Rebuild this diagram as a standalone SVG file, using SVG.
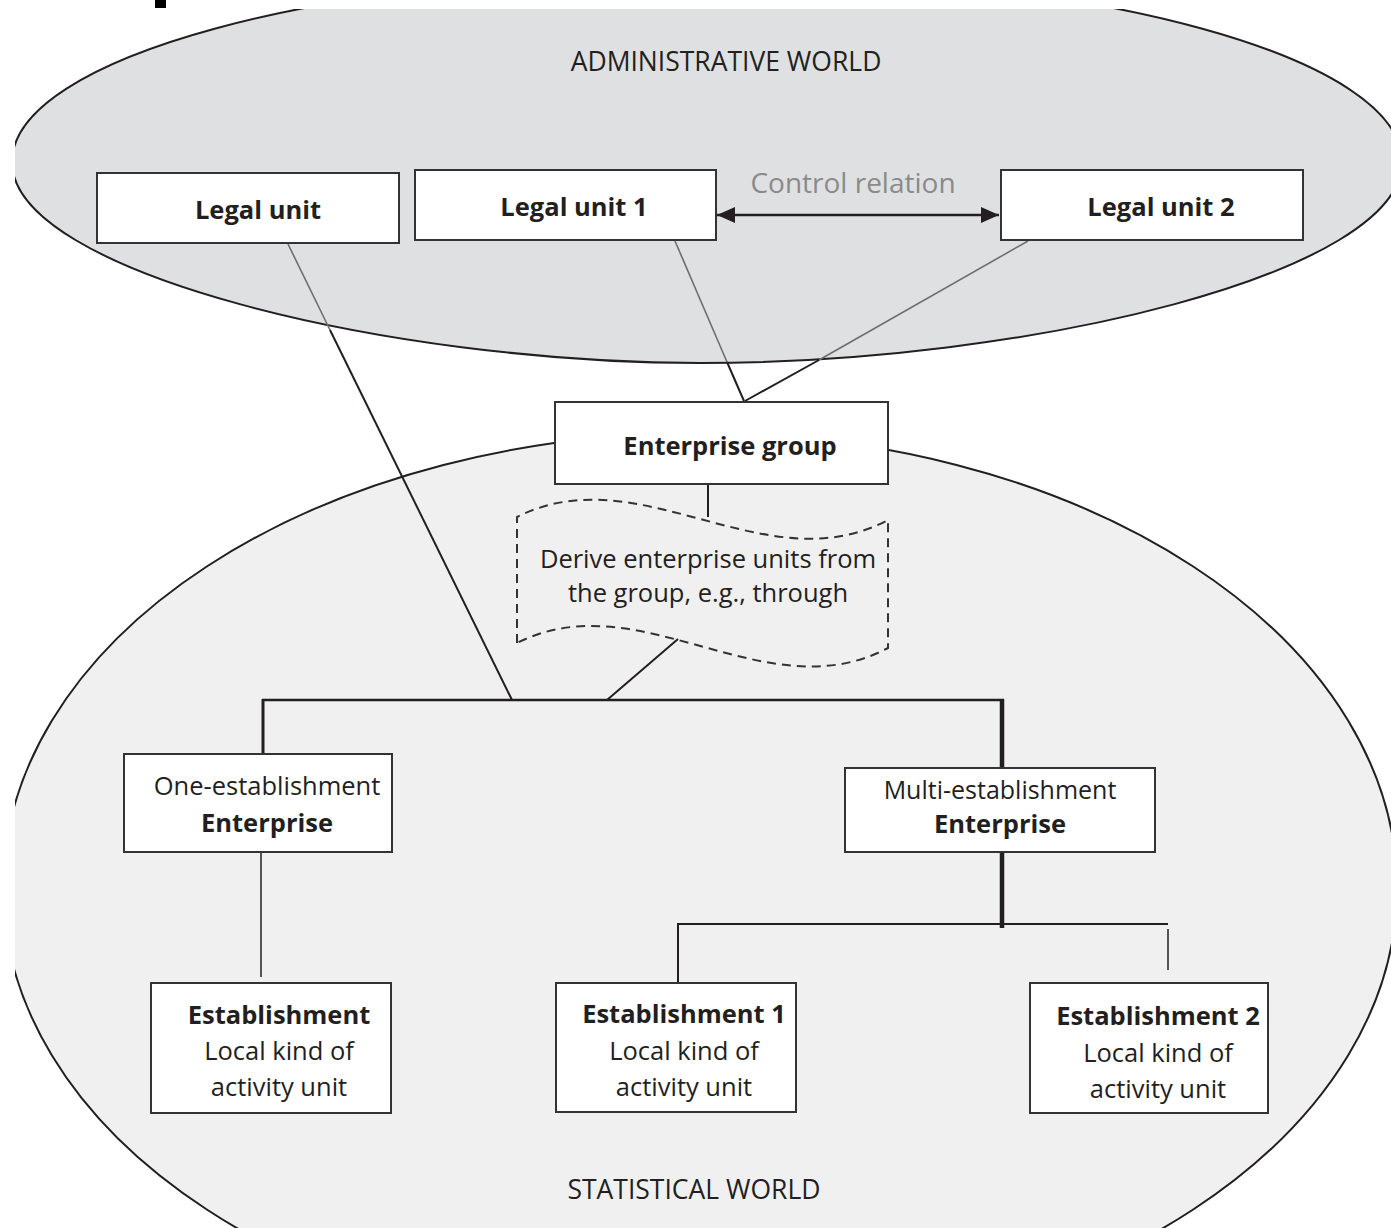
<svg xmlns="http://www.w3.org/2000/svg" width="1391" height="1228" viewBox="0 0 1391 1228">
<style>
.box{fill:#fff;stroke:#333;stroke-width:2}
.t{font-family:"Open Sans","Noto Sans","Liberation Sans",sans-serif;font-size:25.5px;fill:#231f20;text-anchor:middle}
.b{font-weight:bold}
.w{font-size:26.5px}
.ln{stroke:#231f20;stroke-width:2;fill:none}
.lg{stroke:#6e6e6e;stroke-width:1.6;fill:none}
.s15{stroke-width:1.5}
.s25{stroke-width:2.5}
.s3{stroke-width:3}
.s4{stroke-width:4.5}
.world{stroke:#231f20;stroke-width:2}
</style>
<defs>
<clipPath id="frame"><rect x="15" y="9" width="1376" height="1219"/></clipPath>
<marker id="ah" viewBox="0 0 18 16" refX="18" refY="8" markerWidth="18" markerHeight="16" markerUnits="userSpaceOnUse" orient="auto-start-reverse"><path d="M0,0 L18,8 L0,16 z" fill="#231f20"/></marker>
</defs>
<rect width="1391" height="1228" fill="#fff"/>
<rect x="155" y="0" width="11" height="8" fill="#000"/>
<g id="worlds" clip-path="url(#frame)">
<path id="administrative-world" class="world" fill="#dfe0e2" d="M12,162 C12,273 390,363 700,363 C1030,363 1402,273 1402,162 C1402,58 1098,-27 710,-27 C322,-27 12,58 12,162 Z"/>
<ellipse id="statistical-world" class="world" fill="#f0f0f0" cx="700" cy="888" rx="697" ry="455"/>
</g>
<text class="t w" x="726" y="71">ADMINISTRATIVE WORLD</text>
<text class="t w" x="694" y="1199">STATISTICAL WORLD</text>
<g id="connectors">
<line class="lg" x1="288" y1="244" x2="330" y2="330"/>
<line class="ln" x1="330" y1="330" x2="512" y2="700"/>
<line class="lg" x1="675" y1="241" x2="727" y2="362"/>
<line class="ln" x1="727" y1="362" x2="744" y2="401"/>
<line class="lg" x1="1028" y1="241" x2="819" y2="360"/>
<line class="ln" x1="819" y1="360" x2="745" y2="401"/>
<line class="ln s25" x1="717" y1="215" x2="999" y2="215" marker-start="url(#ah)" marker-end="url(#ah)"/>
<line class="ln" x1="708" y1="485" x2="708" y2="517"/>
<line class="ln" x1="678" y1="639" x2="607" y2="700"/>
<line class="ln s25" x1="262" y1="700" x2="1004" y2="700"/>
<line class="ln s3" x1="263" y1="699" x2="263" y2="754"/>
<line class="ln s4" x1="1002" y1="699" x2="1002" y2="768"/>
<line class="ln s4" x1="1002" y1="852" x2="1002" y2="928"/>
<line class="ln" x1="677" y1="924" x2="1168" y2="924"/>
<line class="ln" x1="678" y1="924" x2="678" y2="983"/>
<line class="ln s15" x1="1168" y1="929" x2="1168" y2="970"/>
<line class="ln s15" x1="261" y1="852" x2="261" y2="977"/>
</g>
<g id="legal-unit"><rect class="box" x="97" y="173" width="302" height="70"/><text class="t b" x="258" y="219">Legal unit</text></g>
<g id="legal-unit-1"><rect class="box" x="415" y="170" width="301" height="70"/><text class="t b" x="574" y="216">Legal unit 1</text></g>
<g id="legal-unit-2"><rect class="box" x="1001" y="170" width="302" height="70"/><text class="t b" x="1161" y="216">Legal unit 2</text></g>
<text class="t" x="853" y="193" style="font-size:28px;fill:#8a8a8a">Control relation</text>
<g id="enterprise-group"><rect class="box" x="555" y="402" width="333" height="82"/><text class="t b" x="730" y="455">Enterprise group</text></g>
<g id="derive-note">
<path d="M517,643 L517,517 C640,455 765,585 888,520 L888,648 C765,713 640,581 517,643 Z" fill="none" stroke="#333" stroke-width="2" stroke-dasharray="9,6"/>
<text class="t" x="708" y="568">Derive enterprise units from</text>
<text class="t" x="708" y="602">the group, e.g., through</text>
</g>
<g id="one-establishment-enterprise"><rect class="box" x="124" y="754" width="268" height="98"/><text class="t" x="267" y="795">One-establishment</text><text class="t b" x="267" y="832">Enterprise</text></g>
<g id="multi-establishment-enterprise"><rect class="box" x="845" y="768" width="310" height="84"/><text class="t" x="1000" y="799" style="font-size:25px">Multi-establishment</text><text class="t b" x="1000" y="833">Enterprise</text></g>
<g id="establishment"><rect class="box" x="151" y="983" width="240" height="130"/><text class="t b" x="279" y="1024">Establishment</text><text class="t" x="279" y="1060">Local kind of</text><text class="t" x="279" y="1096">activity unit</text></g>
<g id="establishment-1"><rect class="box" x="556" y="983" width="240" height="129"/><text class="t b" x="684" y="1023">Establishment 1</text><text class="t" x="684" y="1060">Local kind of</text><text class="t" x="684" y="1096">activity unit</text></g>
<g id="establishment-2"><rect class="box" x="1030" y="983" width="238" height="130"/><text class="t b" x="1158" y="1025">Establishment 2</text><text class="t" x="1158" y="1062">Local kind of</text><text class="t" x="1158" y="1098">activity unit</text></g>
</svg>
